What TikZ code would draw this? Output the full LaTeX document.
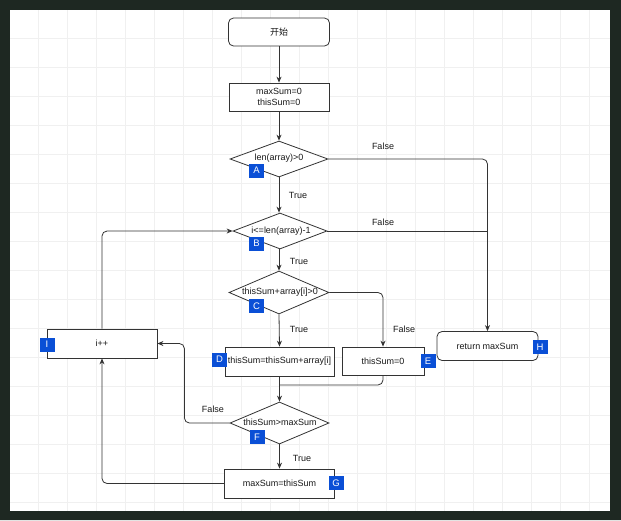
\documentclass[tikz,border=0pt]{standalone}
\usepackage{fontspec}
\setmainfont{Liberation Sans}
\newfontfamily\cjk{Noto Sans CJK SC}
\usetikzlibrary{shapes.geometric,arrows.meta}
\definecolor{linec}{HTML}{333333}
\definecolor{badgec}{HTML}{0A4FD6}
\definecolor{framec}{HTML}{1E2822}
\tikzset{
  every node/.style={font=\fontsize{9}{10.5}\selectfont, text=black!90},
  box/.style={draw=linec, line width=0.8pt, fill=white, inner sep=0pt, rectangle},
  rbox/.style={box, rounded corners=5pt},
  dia/.style={draw=linec, line width=0.8pt, fill=white, diamond, inner sep=0pt},
  badge/.style={fill=badgec, text=white, minimum width=15pt, minimum height=14pt, inner sep=0pt, font=\fontsize{9.5}{10}\selectfont},
  conn/.style={draw=linec, line width=0.8pt, rounded corners=5pt},
  arr/.style={conn, -{Stealth[length=6pt,width=5pt]}},
  lab/.style={font=\fontsize{9}{10}\selectfont}
}
\begin{document}
\begin{tikzpicture}[x=1pt,y=-1pt]
\useasboundingbox (0,0) rectangle (621,520);
% frame and background
\fill[framec, even odd rule] (0,0) rectangle (621,520) (10,10) rectangle (610,511);
\fill[white] (10,10) rectangle (610,511);
\begin{scope}
\clip (10,10) rectangle (610,511);
\foreach \k in {0,...,21} {
  \draw[black!6, line width=0.6pt] ({9.5+29*\k},10) -- ({9.5+29*\k},511);
}
\foreach \k in {0,...,17} {
  \draw[black!6, line width=0.6pt] (10,{9.5+29*\k}) -- (610,{9.5+29*\k});
}
\end{scope}

% nodes
\node[rbox, minimum width=101pt, minimum height=28pt] (S) at (279,32) {\cjk 开始};
\node[box, minimum width=100pt, minimum height=28pt, align=center] (init) at (279,97) {maxSum=0\\thisSum=0};
\node[dia, minimum width=98pt, minimum height=36pt] (A) at (279,159) {};
\node at (279,158) {len(array)>0};
\node[dia, minimum width=94pt, minimum height=36pt] (B) at (280,231) {};
\node at (281,231) {i<=len(array)-1};
\node[dia, minimum width=100pt, minimum height=43pt] (C) at (279,292.5) {};
\node at (280,292) {thisSum+array[i]>0};
\node[box, minimum width=109pt, minimum height=29pt] (D) at (279.5,361.5) {thisSum=thisSum+array[i]};
\node[box, minimum width=82pt, minimum height=28pt] (E) at (383,361) {thisSum=0};
\node[dia, minimum width=99pt, minimum height=42pt] (F) at (279.5,423) {};
\node at (280,422) {thisSum>maxSum};
\node[box, minimum width=110pt, minimum height=29pt] (G) at (279.5,483.5) {maxSum=thisSum};
\node[box, minimum width=110pt, minimum height=29pt] (I) at (102,343.5) {i++};
\node[rbox, minimum width=101pt, minimum height=29pt] (H) at (487.5,346) {return maxSum};

% badges
\node[badge] (bA) at (256.5,170.5) {A};
\node[badge] (bB) at (256.5,243.5) {B};
\node[badge] (bC) at (256.5,306) {C};
\node[badge] (bD) at (219.5,359.5) {D};
\node[badge] (bE) at (428,361) {E};
\node[badge] (bF) at (257,437) {F};
\node[badge] (bG) at (336,483) {G};
\node[badge] (bH) at (540,347) {H};
\node[badge] (bI) at (47,344.5) {I};

% connectors
\draw[arr] (S) -- (init);
\draw[arr] (init) -- (A);
\draw[arr] (A.south) -- (B.north -| A.south);
\draw[arr] (A.east) -| (H.north);
\coordinate (J) at (H.north |- B.east);
\draw[conn] (B.east) -- (J);
\draw[arr] (B.south -| C.north) -- (C.north);
\draw[arr] (C.south) -- (D.north);
\draw[arr] (C.east) -| (E.north);
\draw[arr] (D.south) -- (F.north);
\coordinate (M) at (279.5,385);
\draw[conn] (E.south) |- (M);
\draw[arr] (F.west) -| ([xshift=27pt]I.east) -- (I.east);
\draw[arr] (F.south) -- (G.north);
\draw[arr] (G.west) -| (I.south);
\draw[arr] (I.north) |- (B.west);

% labels
\node[lab] at (298,195) {True};
\node[lab] at (383,146) {False};
\node[lab] at (383,222) {False};
\node[lab] at (299,261) {True};
\node[lab] at (299,329) {True};
\node[lab] at (404,329) {False};
\node[lab] at (213,409) {False};
\node[lab] at (302,458) {True};
\end{tikzpicture}
\end{document}
